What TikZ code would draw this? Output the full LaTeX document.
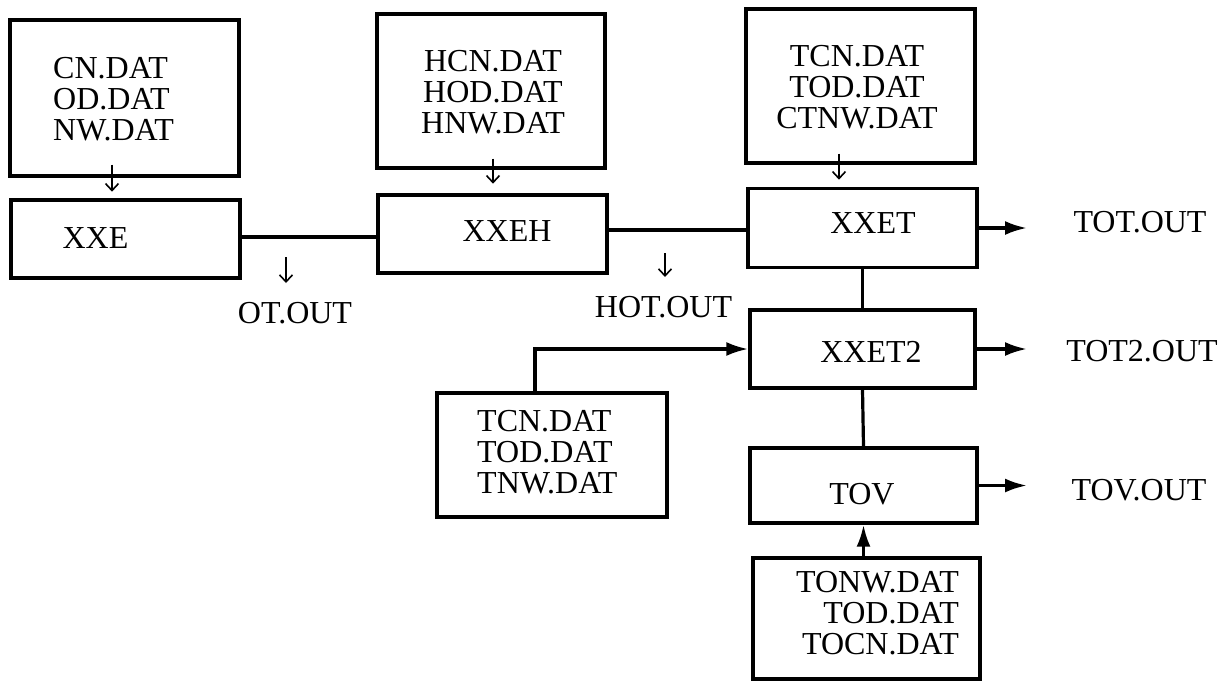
\documentclass[tikz,border=0pt]{standalone}
\usepackage{fontspec}
\setmainfont{Liberation Serif}
\usetikzlibrary{arrows.meta,calc}
\begin{document}
\begin{tikzpicture}[x=1pt,y=-1pt,
  box/.style={draw,line width=3.4pt,inner sep=0pt,rectangle},
  txt/.style={font=\fontsize{32}{31}\selectfont,inner sep=0pt},
  link/.style={line width=3.2pt},
  bigarr/.style={line width=3.2pt,-{Latex[length=22pt,width=14pt]}},
  thinarr/.style={line width=1.6pt,-{Straight Barb[length=7pt,width=13pt]}}
]
\useasboundingbox (0,0) rectangle (1228,681);

% data-file boxes
\node[box,minimum width=229pt,minimum height=156pt] (cn)   at (124.5,98)  {};
\node[box,minimum width=228pt,minimum height=154pt] (hcn)  at (491,91)    {};
\node[box,minimum width=229pt,minimum height=154pt] (tcn)  at (860.5,86)  {};
\node[box,minimum width=230pt,minimum height=124pt] (tcn2) at (552,455)   {};
\node[box,minimum width=227pt,minimum height=121pt] (tonw) at (866.5,618.5) {};

% program boxes
\node[box,minimum width=229pt,minimum height=78pt] (xxe)   at (125.5,239) {};
\node[box,minimum width=229pt,minimum height=78pt] (xxeh)  at (492.5,234) {};
\node[box,minimum width=229pt,minimum height=79pt] (xxet)  at (862.5,228) {};
\node[box,minimum width=225pt,minimum height=78pt] (xxet2) at (862.5,349) {};
\node[box,minimum width=227pt,minimum height=75pt] (tov)   at (863.5,485.5) {};

% box contents
\node[txt,align=left,anchor=west]   (cn-t)   at (53,99)   {CN.DAT\\OD.DAT\\NW.DAT};
\node[txt,align=center]             (hcn-t)  at (493,92)  {HCN.DAT\\HOD.DAT\\HNW.DAT};
\node[txt,align=center]             (tcn-t)  at (857,87)  {TCN.DAT\\TOD.DAT\\CTNW.DAT};
\node[txt,align=left,anchor=west]   (tcn2-t) at (477,452) {TCN.DAT\\TOD.DAT\\TNW.DAT};
\node[txt,align=right,anchor=east]  (tonw-t) at (959,613) {TONW.DAT\\TOD.DAT\\TOCN.DAT};

\node[txt] (xxe-t)   at (95.5,238) {XXE};
\node[txt] (xxeh-t)  at (507,231)  {XXEH};
\node[txt] (xxet-t)  at (873,223)  {XXET};
\node[txt] (xxet2-t) at (871,352)  {XXET2};
\node[txt] (tov-t)   at (862,494)  {TOV};

% output files
\node[txt] (ot)    at (295,313)  {OT.OUT};
\node[txt] (hot)   at (663.5,307) {HOT.OUT};
\node[txt] (tot)   at (1140,222) {TOT.OUT};
\node[txt] (tot2)  at (1142,351) {TOT2.OUT};
\node[txt] (tovo)  at (1139,490) {TOV.OUT};

% small input/output marks
\draw[thinarr] ($(cn.south)+(-12.5,-13)$) -- ++(0,27);
\draw[thinarr] ($(hcn.south)+(2,-11)$) -- ++(0,25);
\draw[thinarr] ($(tcn.south)+(-21.5,-11)$) -- ++(0,26);
\draw[thinarr] ($(ot.center)+(-9,-56)$) -- ++(0,26);
\draw[thinarr] ($(hot.center)+(1.5,-54)$) -- ++(0,24);

% program chain
\draw[link] ($(xxe.east)+(0,-2)$) -- ($(xxe.east -| xxeh.west)+(0,-2)$);
\draw[link] ($(xxeh.east)+(0,-4)$) -- ($(xxeh.east -| xxet.west)+(0,-4)$);
\draw[link] (xxet.south) -- (xxet2.north);
\draw[link] (xxet2.south) -- (tov.north);

% inputs with heads
\draw[bigarr] ($(tcn2.north)+(-17,0)$) |- (xxet2.west);
\draw[bigarr] (tonw.north -| tov.south) -- (tov.south);

% outputs
\coordinate (tot-tip)  at (1027,228);
\coordinate (tot2-tip) at (1027,349);
\coordinate (tov-tip)  at (1027,485.5);
\draw[bigarr] (xxet.east) -- (tot-tip);
\draw[bigarr] (xxet2.east) -- (tot2-tip);
\draw[bigarr] (tov.east) -- (tov-tip);
\end{tikzpicture}
\end{document}
